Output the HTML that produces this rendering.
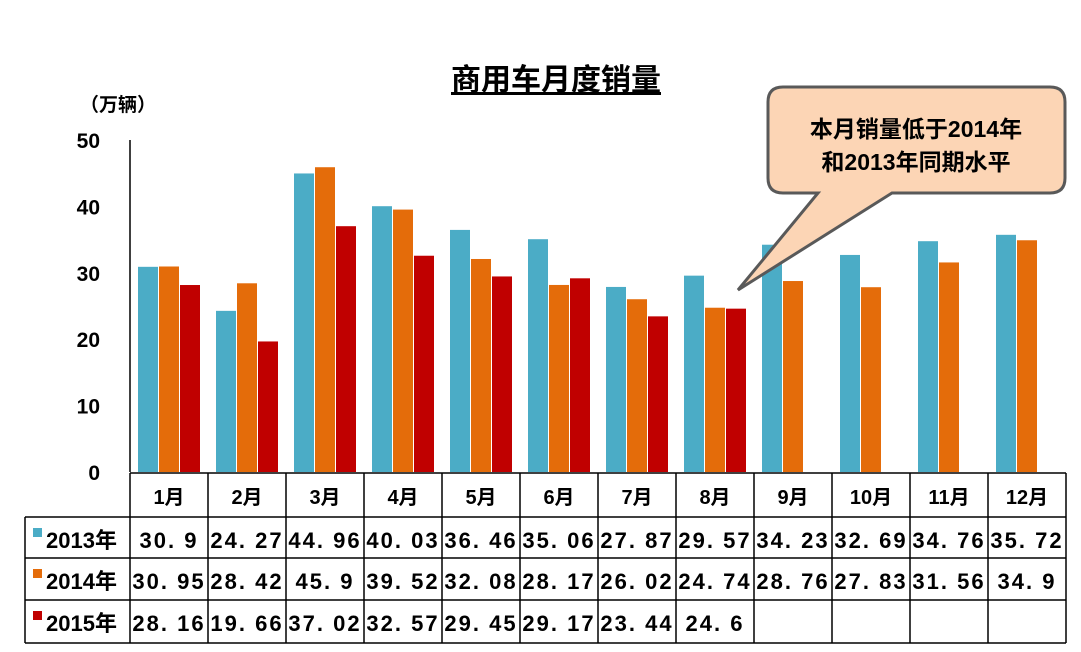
<!DOCTYPE html>
<html><head><meta charset="utf-8"><style>
body{margin:0;background:#fff;}
svg{display:block;font-family:"Liberation Sans","Noto Sans CJK SC",sans-serif;}
</style></head><body>
<svg id="c" width="1081" height="652" viewBox="0 0 1081 652"></svg>
<script>
const months=["1月","2月","3月","4月","5月","6月","7月","8月","9月","10月","11月","12月"];
const s2013=[30.9,24.27,44.96,40.03,36.46,35.06,27.87,29.57,34.23,32.69,34.76,35.72];
const s2014=[30.95,28.42,45.9,39.52,32.08,28.17,26.02,24.74,28.76,27.83,31.56,34.9];
const s2015=[28.16,19.66,37.02,32.57,29.45,29.17,23.44,24.6];
const labels2013=["30.9","24.27","44.96","40.03","36.46","35.06","27.87","29.57","34.23","32.69","34.76","35.72"];
const labels2014=["30.95","28.42","45.9","39.52","32.08","28.17","26.02","24.74","28.76","27.83","31.56","34.9"];
const labels2015=["28.16","19.66","37.02","32.57","29.45","29.17","23.44","24.6"];
const yTicks=[0,10,20,30,40,50];
const seriesNames=["2013年","2014年","2015年"];

const NS="http://www.w3.org/2000/svg";
const svg=document.getElementById('c');
const X0=130,COLW=78,Y0=472,YTOP=140,YMAX=50;
const y=v=>Y0-(v/YMAX)*(Y0-YTOP);
const colX=i=>X0+i*COLW;
const colors=["#4bacc6","#e46c0a","#c00000"];
function mk(t,a,txt){const e=document.createElementNS(NS,t);for(const k in a)e.setAttribute(k,a[k]);if(txt!=null)e.textContent=txt;svg.appendChild(e);return e;}

let t=mk('text',{x:556,y:90,'text-anchor':'middle','font-size':30,'font-weight':'bold','text-decoration':'underline',fill:'#000'},'商用车月度销量');


t=mk('text',{x:80,y:111,'font-size':19,'font-weight':'bold'},'（万辆）');


yTicks.forEach(v=>{
  const e=mk('text',{x:100,y:y(v)+8,'text-anchor':'end','font-size':21,'font-weight':'bold'},String(v));
  
  
});
let ax=mk('line',{x1:X0,y1:YTOP,x2:X0,y2:Y0,stroke:'#000','stroke-width':1.5});


const all=[s2013,s2014,s2015];
all.forEach((arr,si)=>{
  arr.forEach((v,i)=>{
    const b=mk('rect',{x:colX(i)+8+si*21,y:y(v),width:20,height:Y0-y(v),fill:colors[si]});
    
    
  });
});
// table
const rows=[473,517,558,600,643];
const g=mk('g',{stroke:'#000','stroke-width':1.5,fill:'none'});


function ln(x1,y1,x2,y2){const e=document.createElementNS(NS,'line');e.setAttribute('x1',x1);e.setAttribute('y1',y1);e.setAttribute('x2',x2);e.setAttribute('y2',y2);g.appendChild(e);}
ln(X0,rows[0],colX(12),rows[0]);
for(let r=1;r<rows.length;r++)ln(25,rows[r],colX(12),rows[r]);
ln(25,rows[1],25,rows[4]);
for(let i=0;i<=12;i++)ln(colX(i),rows[0],colX(i),rows[4]);
months.forEach((m,i)=>{
  const e=mk('text',{x:colX(i)+COLW/2,y:504,'text-anchor':'middle','font-size':20,'font-weight':'bold'},m);
  
  
});
const lbls=[labels2013,labels2014,labels2015];
lbls.forEach((arr,si)=>{
  const ry=rows[si+1]+31;
  const sq=mk('rect',{x:33,y:rows[si+1]+11,width:9,height:9,fill:colors[si]});
  
  
  const n=mk('text',{x:46,y:ry,'font-size':22,'font-weight':'bold'},seriesNames[si]);
  
  
  arr.forEach((s,i)=>{
    const e=mk('text',{x:colX(i)+COLW/2,y:ry,'text-anchor':'middle','font-size':22,'font-weight':'bold','letter-spacing':'2'},s.replace('.','. '));
    
    
  });
});
// callout
let co=mk('path',{d:'M783,87 H1050 Q1065,87 1065,102 V178 Q1065,193 1050,193 H892 L738,290 L818,193 H783 Q768,193 768,178 V102 Q768,87 783,87 Z',fill:'#fcd5b5',stroke:'#595959','stroke-width':3});


t=mk('text',{x:916,y:137,'text-anchor':'middle','font-size':23,'font-weight':'bold'},'本月销量低于2014年');


t=mk('text',{x:916,y:170,'text-anchor':'middle','font-size':23,'font-weight':'bold'},'和2013年同期水平');


</script>
</body></html>
